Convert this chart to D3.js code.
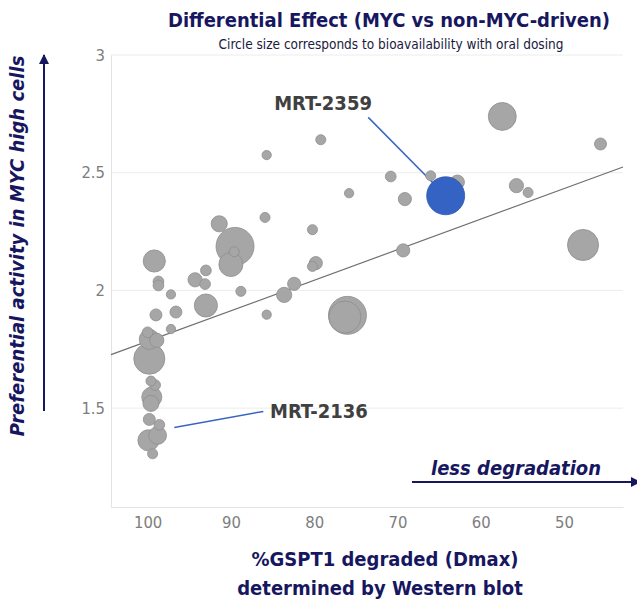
<!DOCTYPE html>
<html>
<head>
<meta charset="utf-8">
<script src="https://cdn.jsdelivr.net/npm/d3@7"></script>
<style>
  body { margin: 0; background: #fff; }
  text { font-family: "DejaVu Sans Condensed", "DejaVu Sans", sans-serif; }
</style>
</head>
<body>
<svg id="chart" width="637" height="605"></svg>
<script>
// Dmax (%), differential effect, oral bioavailability (%)
var dmax = [99.2, 98.7, 98.7, 97.2, 94.3, 93.0, 93.1, 93.0, 99.0, 96.6, 97.2, 100.0, 99.8, 98.9,
            99.8, 99.6, 99.1, 99.5, 99.6, 99.8, 98.6, 99.9, 98.8, 99.4, 91.4, 89.5, 90.0, 89.6,
            85.9, 80.2, 79.8, 80.2, 88.8, 82.4, 83.6, 85.7, 76.0, 76.3, 79.2, 85.7, 70.8, 66.0,
            62.8, 75.8, 69.1, 69.3, 57.4, 45.6, 55.7, 54.3, 47.7];
var effect = [2.125, 2.038, 2.021, 1.983, 2.045, 2.085, 2.027, 1.936, 1.896, 1.908, 1.836, 1.822, 1.792, 1.788,
              1.710, 1.615, 1.598, 1.547, 1.520, 1.452, 1.429, 1.363, 1.384, 1.306, 2.283, 2.187, 2.110, 2.164,
              2.310, 2.258, 2.116, 2.102, 1.996, 2.028, 1.981, 1.897, 1.894, 1.887, 2.640, 2.575, 2.484, 2.487,
              2.460, 2.413, 2.388, 2.170, 2.739, 2.622, 2.445, 2.416, 2.193];
var bioavail = [34, 8, 8, 6, 14, 8, 8, 37, 10, 10, 6, 8, 28, 14,
                67, 7, 8, 28, 18, 10, 8, 31, 22, 7, 18, 100, 40, 7,
                7, 7, 12, 7, 7, 12, 16, 6, 100, 71, 7, 6, 8, 7,
                14, 6, 12, 12, 54, 10, 14, 7, 67];

var highlight = {name: "MRT-2359", dmax: 64.2, effect: 2.402, bioavail: 100};

var trendX = [104.4, 42.9];
var trendY = [1.727, 2.524];

var xTicks = [100, 90, 80, 70, 60, 50];
var yTicks = [1.5, 2, 2.5, 3];

var labels = [
  {text: "MRT-2359", x: 84.8, y: 2.765, fromX: 73.5, fromY: 2.735, toX: 64.2, toY: 2.402},
  {text: "MRT-2136", x: 85.3, y: 1.456, fromX: 86.1, fromY: 1.486, toX: 96.8, toY: 1.418}
];

var svg = d3.select("#chart"),
    margin = {top: 55, right: 14, bottom: 98, left: 111},
    width = +svg.attr("width") - margin.left - margin.right,
    height = +svg.attr("height") - margin.top - margin.bottom,
    g = svg.append("g").attr("transform", "translate(" + margin.left + "," + margin.top + ")");

var navy = "#17175f";

var x = d3.scaleLinear().domain([104.4, 42.9]).range([0, width]);
var y = d3.scaleLinear().domain([1.08, 3]).range([height, 0]);
var r = d3.scaleSqrt().domain([0, 100]).range([0, 19]);

var data = dmax.map(function(d, i) {
  return {dmax: d, effect: effect[i], bioavail: bioavail[i]};
});

// grid
g.append("g")
    .selectAll("line")
    .data(yTicks)
  .enter().append("line")
    .attr("x1", 0).attr("x2", width)
    .attr("y1", function(d) { return y(d); })
    .attr("y2", function(d) { return y(d); })
    .attr("stroke", "#ececec");

// axes
var yAxis = g.append("g")
    .call(d3.axisLeft(y).tickValues(yTicks).tickSize(0).tickPadding(6).tickFormat(d3.format("")));
yAxis.select(".domain").attr("stroke", "#e3e3e3");
yAxis.selectAll("text").attr("fill", "#7d7d7d").style("font-size", "16.5px")
    .style("font-family", "'DejaVu Sans Condensed', sans-serif");

var xAxis = g.append("g")
    .attr("transform", "translate(0," + height + ")")
    .call(d3.axisBottom(x).tickValues(xTicks).tickSize(0).tickPadding(9));
xAxis.select(".domain").attr("stroke", "#e3e3e3");
xAxis.selectAll("text").attr("fill", "#7d7d7d").style("font-size", "16.5px")
    .style("font-family", "'DejaVu Sans Condensed', sans-serif");

// trend line
g.append("line")
    .attr("x1", x(trendX[0])).attr("y1", y(trendY[0]))
    .attr("x2", x(trendX[1])).attr("y2", y(trendY[1]))
    .attr("stroke", "#707070")
    .attr("stroke-width", 1.2);

// leader lines
g.selectAll(".leader")
    .data(labels)
  .enter().append("line")
    .attr("class", "leader")
    .attr("x1", function(d) { return x(d.fromX); })
    .attr("y1", function(d) { return y(d.fromY); })
    .attr("x2", function(d) { return x(d.toX); })
    .attr("y2", function(d) { return y(d.toY); })
    .attr("stroke", "#3a64c4")
    .attr("stroke-width", 1.5);

// bubbles, big ones underneath
g.append("g")
    .selectAll("circle")
    .data(data.slice().sort(function(a, b) { return b.bioavail - a.bioavail; }))
  .enter().append("circle")
    .attr("cx", function(d) { return x(d.dmax); })
    .attr("cy", function(d) { return y(d.effect); })
    .attr("r", function(d) { return r(d.bioavail); })
    .attr("fill", "#a6a6a6")
    .attr("stroke", "#8e8e8e")
    .attr("stroke-width", 0.8);

g.append("circle")
    .attr("cx", x(highlight.dmax))
    .attr("cy", y(highlight.effect))
    .attr("r", r(highlight.bioavail))
    .attr("fill", "#3563c4")
    .attr("stroke", "#2d56b0")
    .attr("stroke-width", 0.8);

g.selectAll(".lbl")
    .data(labels)
  .enter().append("text")
    .attr("class", "lbl")
    .attr("x", function(d) { return x(d.x); })
    .attr("y", function(d) { return y(d.y); })
    .attr("fill", "#404040")
    .style("font-size", "20px")
    .style("font-weight", "bold")
    .text(function(d) { return d.text; });

// titles
svg.append("text")
    .attr("x", 389).attr("y", 27)
    .attr("text-anchor", "middle")
    .attr("fill", navy)
    .style("font-size", "20px").style("font-weight", "bold")
    .text("Differential Effect (MYC vs non-MYC-driven)");

svg.append("text")
    .attr("x", 391).attr("y", 49)
    .attr("text-anchor", "middle")
    .attr("fill", "#1a1a40")
    .style("font-size", "13.5px")
    .text("Circle size corresponds to bioavailability with oral dosing");

svg.append("text")
    .attr("x", 385).attr("y", 566)
    .attr("text-anchor", "middle")
    .attr("fill", navy)
    .style("font-size", "20px").style("font-weight", "bold")
    .text("%GSPT1 degraded (Dmax)");

svg.append("text")
    .attr("x", 380).attr("y", 595)
    .attr("text-anchor", "middle")
    .attr("fill", navy)
    .style("font-size", "20px").style("font-weight", "bold")
    .text("determined by Western blot");

svg.append("text")
    .attr("transform", "translate(24,246) rotate(-90)")
    .attr("text-anchor", "middle")
    .attr("fill", navy)
    .style("font-size", "20px").style("font-weight", "bold").style("font-style", "italic")
    .text("Preferential activity in MYC high cells");

svg.append("text")
    .attr("x", 516).attr("y", 475)
    .attr("text-anchor", "middle")
    .attr("fill", navy)
    .style("font-size", "20px").style("font-weight", "bold").style("font-style", "italic")
    .text("less degradation");

// direction arrows
var defs = svg.append("defs");
defs.append("marker")
    .attr("id", "arrow")
    .attr("viewBox", "0 0 10 10")
    .attr("refX", 9).attr("refY", 5)
    .attr("markerWidth", 5).attr("markerHeight", 5)
    .attr("orient", "auto")
  .append("path")
    .attr("d", "M0,0L10,5L0,10z")
    .attr("fill", navy);

svg.append("line")
    .attr("x1", 44).attr("y1", 411).attr("x2", 44).attr("y2", 55)
    .attr("stroke", navy).attr("stroke-width", 2)
    .attr("marker-end", "url(#arrow)");

svg.append("line")
    .attr("x1", 412).attr("y1", 482).attr("x2", 640).attr("y2", 482)
    .attr("stroke", navy).attr("stroke-width", 2)
    .attr("marker-end", "url(#arrow)");
</script>
</body>
</html>
